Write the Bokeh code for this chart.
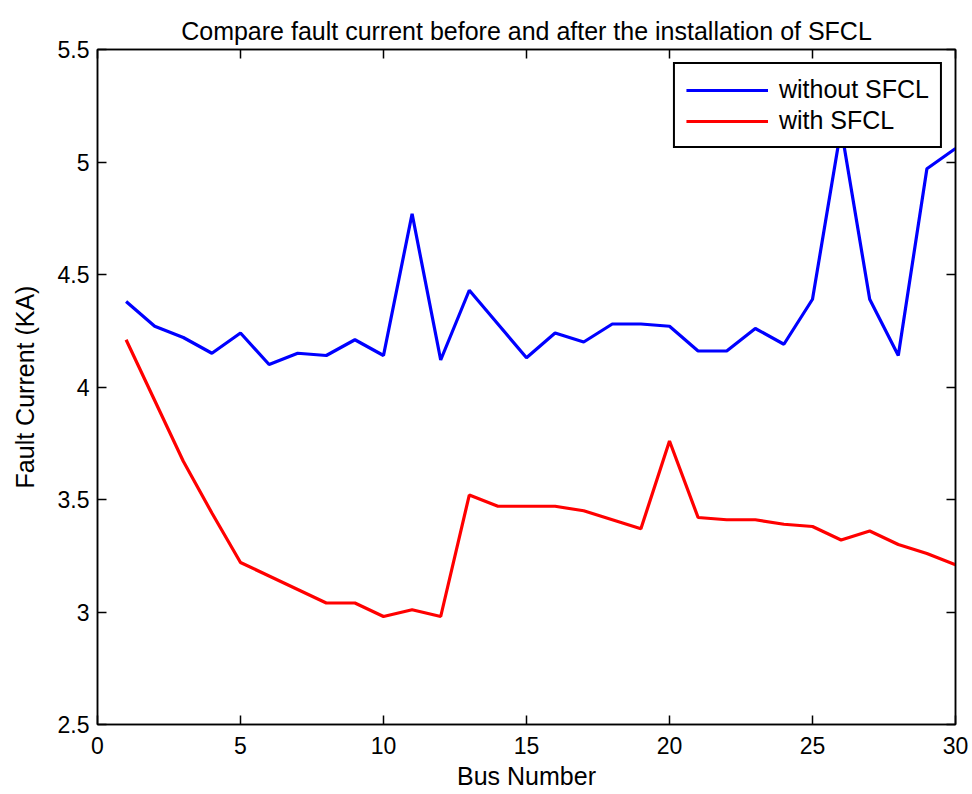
from bokeh.plotting import figure
from bokeh.models import LinearAxis, Legend, LegendItem, NumeralTickFormatter, FixedTicker, Range1d
from bokeh.embed import file_html
from bokeh.resources import INLINE

bus = list(range(1, 31))
without_sfcl = [4.38, 4.27, 4.22, 4.15, 4.24, 4.10, 4.15, 4.14, 4.21, 4.14,
                4.77, 4.12, 4.43, 4.28, 4.13, 4.24, 4.20, 4.28, 4.28, 4.27,
                4.16, 4.16, 4.26, 4.19, 4.39, 5.15, 4.39, 4.14, 4.97, 5.06]
with_sfcl = [4.21, 3.94, 3.67, 3.44, 3.22, 3.16, 3.10, 3.04, 3.04, 2.98,
             3.01, 2.98, 3.52, 3.47, 3.47, 3.47, 3.45, 3.41, 3.37, 3.76,
             3.42, 3.41, 3.41, 3.39, 3.38, 3.32, 3.36, 3.30, 3.26, 3.21]
x_ticks = [0, 5, 10, 15, 20, 25, 30]
y_ticks = [2.5, 3.0, 3.5, 4.0, 4.5, 5.0, 5.5]

FONT = "Liberation Sans"

p = figure(width=972, height=794, output_backend="svg", toolbar_location=None,
           x_range=Range1d(0, 30), y_range=Range1d(2.5, 5.5),
           title="Compare fault current before and after the installation of SFCL",
           x_axis_label="Bus Number", y_axis_label="Fault Current (KA)",
           min_border_left=97, min_border_right=17, min_border_top=49, min_border_bottom=70)

p.title.text_font = FONT
p.title.text_font_size = "25px"
p.title.text_font_style = "normal"
p.title.align = "center"
p.title.text_color = "black"

p.xgrid.visible = False
p.ygrid.visible = False
p.outline_line_color = "black"
p.outline_line_width = 1.5
p.background_fill_color = "white"
p.border_fill_color = "white"

r1 = p.line(bus, without_sfcl, line_color="#0000FF", line_width=3.2)
r2 = p.line(bus, with_sfcl, line_color="#FF0000", line_width=3.2)

# extra axes for MATLAB-style box ticks
p.add_layout(LinearAxis(), "above")
p.add_layout(LinearAxis(), "right")

for ax in p.xaxis:
    ax.ticker = FixedTicker(ticks=x_ticks)
for ax in p.yaxis:
    ax.ticker = FixedTicker(ticks=y_ticks)
    ax.formatter = NumeralTickFormatter(format="0.[0]")

for ax in p.axis:
    ax.major_tick_in = 9
    ax.major_tick_out = 0
    ax.minor_tick_line_color = None
    ax.axis_line_width = 1.5
    ax.axis_line_color = "black"
    ax.major_tick_line_color = "black"
    ax.major_tick_line_width = 1.5
    ax.major_label_text_font = FONT
    ax.major_label_text_font_size = "23px"
    ax.major_label_text_color = "black"
    ax.axis_label_text_font = FONT
    ax.axis_label_text_font_size = "25px"
    ax.axis_label_text_font_style = "normal"
    ax.axis_label_text_color = "black"

# bottom / left
p.below[0].major_label_standoff = 12
p.below[0].axis_label_standoff = 5
p.left[0].major_label_standoff = 8
p.left[0].axis_label_standoff = 16

# top/right: ticks only, no labels drawn
for ax in (p.above[0], p.right[0]):
    ax.major_label_text_color = None
    ax.major_label_text_font_size = "2px"
    ax.major_label_standoff = 0

legend = Legend(items=[LegendItem(label="without SFCL", renderers=[r1]),
                       LegendItem(label="with SFCL", renderers=[r2])],
                location="top_right", margin=13)
legend.label_text_font = FONT
legend.label_text_font_size = "25px"
legend.label_text_color = "black"
legend.glyph_width = 82
legend.glyph_height = 28
legend.label_standoff = 11
legend.spacing = 2
legend.padding = 11
legend.border_line_color = "black"
legend.border_line_alpha = 1.0
legend.border_line_width = 2
legend.background_fill_color = "white"
legend.background_fill_alpha = 1.0
p.add_layout(legend, "center")

open("out.html", "w").write(file_html(p, INLINE))
